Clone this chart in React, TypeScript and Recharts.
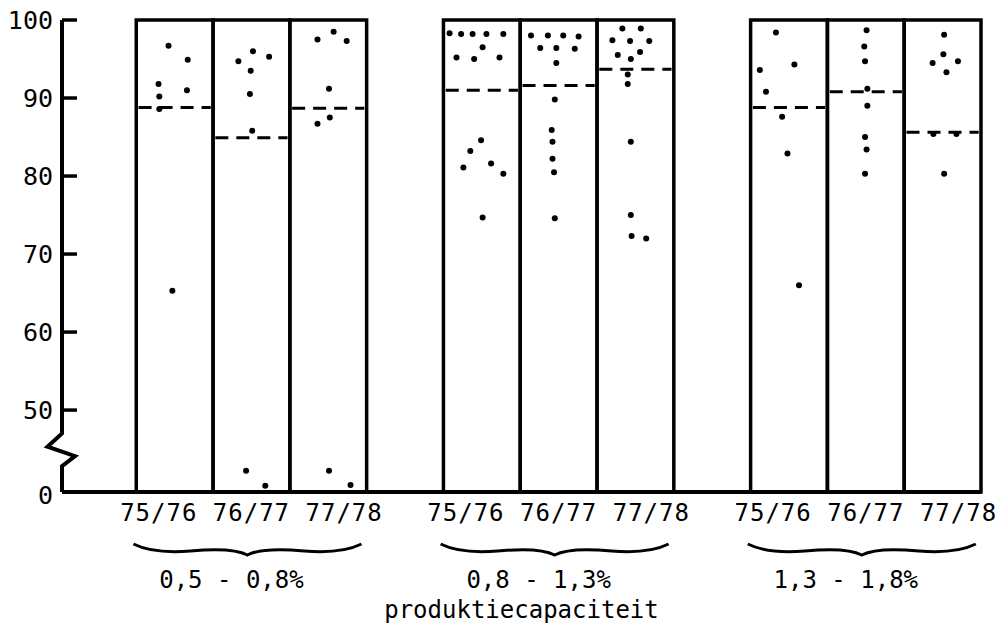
import React from 'react';
import { ComposedChart, XAxis, YAxis, Scatter, ReferenceArea, ReferenceLine } from 'recharts';

// ---------- data ----------
const years = ['75/76', '76/77', '77/78'];
const groupLabels = ['0,5 - 0,8%', '0,8 - 1,3%', '1,3 - 1,8%'];
const xTitle = 'produktiecapaciteit';
const yTickValues = [0, 50, 60, 70, 80, 90, 100];

// dashed level per year, for each capacity group
const levelsG1 = [88.8, 84.9, 88.7];
const levelsG2 = [91.0, 91.6, 93.7];
const levelsG3 = [88.8, 90.8, 85.6];

// dots: [horizontal place inside the column (0..1), value %]
const g1y1 = [[0.42, 96.7], [0.67, 94.9], [0.29, 91.8], [0.66, 91.0], [0.3, 90.2], [0.3, 88.6], [0.47, 65.3]];
const g1y2 = [[0.52, 96.0], [0.33, 94.7], [0.73, 95.3], [0.49, 93.5], [0.48, 90.5], [0.51, 85.8], [0.43, 12.9], [0.68, 3.8]];
const g1y3 = [[0.57, 98.5], [0.36, 97.5], [0.74, 97.3], [0.51, 91.2], [0.52, 87.5], [0.36, 86.7], [0.51, 12.9], [0.79, 4.3]];
const g2y1 = [[0.08, 98.3], [0.23, 98.2], [0.38, 98.2], [0.56, 98.2], [0.78, 98.2], [0.51, 96.5], [0.17, 95.2], [0.4, 95.0], [0.73, 95.2], [0.49, 84.6], [0.35, 83.2], [0.26, 81.1], [0.62, 81.6], [0.78, 80.3], [0.51, 74.7]];
const g2y2 = [[0.14, 98.0], [0.36, 98.0], [0.56, 98.0], [0.76, 97.9], [0.26, 96.4], [0.47, 96.4], [0.71, 96.3], [0.47, 94.5], [0.45, 89.8], [0.41, 85.9], [0.42, 84.4], [0.42, 82.2], [0.44, 80.5], [0.45, 74.6]];
const g2y3 = [[0.33, 98.9], [0.57, 98.9], [0.2, 97.4], [0.43, 97.3], [0.68, 97.3], [0.27, 95.5], [0.44, 95.0], [0.56, 95.9], [0.4, 93.0], [0.4, 91.8], [0.44, 84.4], [0.44, 75.0], [0.45, 72.3], [0.64, 72.0]];
const g3y1 = [[0.33, 98.4], [0.12, 93.6], [0.57, 94.3], [0.2, 90.8], [0.41, 87.6], [0.48, 82.9], [0.63, 66.0]];
const g3y2 = [[0.51, 98.7], [0.48, 96.6], [0.49, 94.7], [0.52, 91.2], [0.52, 89.0], [0.49, 85.0], [0.51, 83.4], [0.49, 80.3]];
const g3y3 = [[0.52, 98.1], [0.51, 95.6], [0.37, 94.5], [0.7, 94.7], [0.55, 93.3], [0.38, 85.4], [0.68, 85.4], [0.52, 80.3]];

const dotsByGroup = [[g1y1, g1y2, g1y3], [g2y1, g2y2, g2y3], [g3y1, g3y2, g3y3]];
const levelsByGroup = [levelsG1, levelsG2, levelsG3];

// ---------- axis break ----------
const ZERO_AT = 39.5; // display position of value 0 (axis broken between 0 and 50)
const toDisplay = (v: number) => (v >= 50 ? v : ZERO_AT + (v * (50 - ZERO_AT)) / 50);
const toReal = (d: number) => (d >= 50 ? d : ((d - ZERO_AT) * 50) / (50 - ZERO_AT));

const X_MIN = -0.967;
const X_MAX = 11;
const colStart = (g: number, c: number) => g * 4 + c;

const MONO = '"DejaVu Sans Mono", "Liberation Mono", monospace';

const points: { x: number; y: number }[] = [];
dotsByGroup.forEach((group, g) =>
  group.forEach((arr, c) =>
    arr.forEach(([f, v]) => points.push({ x: colStart(g, c) + f, y: toDisplay(v) }))
  )
);

const groupTicks = [0, 1, 2].map((g) => colStart(g, 1) + 0.5);

const YTick = (props: any) => {
  const { x, y, payload } = props;
  const real = Math.round(toReal(payload.value));
  return (
    <text
      x={x - 9}
      y={real === 0 ? y + 3 : y}
      textAnchor="end"
      dominantBaseline="central"
      fontFamily={MONO}
      fontSize={25}
      fill="#000"
    >
      {real}
    </text>
  );
};

const XTick = (props: any) => {
  const { x, y, payload } = props;
  const g = Math.round((payload.value - 1.5) / 4);
  const h = 114;
  const bx = x - 4;
  const by = y + 52;
  const d = `M ${bx - h} ${by} Q ${bx - h + 20} ${by + 10} ${bx - h / 2} ${by + 7} Q ${bx - 15} ${by + 3} ${bx} ${by + 11} Q ${bx + 15} ${by + 3} ${bx + h / 2} ${by + 7} Q ${bx + h - 20} ${by + 10} ${bx + h} ${by}`;
  return (
    <g>
      <text
        x={x}
        y={y + 21}
        textAnchor="middle"
        dominantBaseline="central"
        fontFamily={MONO}
        fontSize={24}
        letterSpacing={1}
        fill="#000"
      >
        {years.join(' ')}
      </text>
      <path d={d} fill="none" stroke="#000" strokeWidth={3} />
      <text
        x={x - 20}
        y={y + 88}
        textAnchor="middle"
        dominantBaseline="central"
        fontFamily={MONO}
        fontSize={24}
        fill="#000"
      >
        {groupLabels[g]}
      </text>
    </g>
  );
};

// y axis line with a zig-zag break between 0 and 50, and inward tick marks
const BREAK = [47.0, 45.3, 44.1, 42.8];
const BrokenAxis = (props: any) => {
  const { x1, y1, y2 } = props;
  const yAt = (d: number) => y1 + ((100 - d) / (100 - ZERO_AT)) * (y2 - y1);
  const d = `M ${x1} ${y1} L ${x1} ${yAt(BREAK[0])} L ${x1 - 14.5} ${yAt(BREAK[1])} L ${x1 + 13} ${yAt(BREAK[2])} L ${x1} ${yAt(BREAK[3])} L ${x1} ${y2}`;
  return (
    <g>
      <path d={d} fill="none" stroke="#000" strokeWidth={4} strokeLinejoin="miter" />
      {yTickValues
        .filter((v) => v !== 0)
        .map((v) => (
          <line
            key={v}
            x1={x1}
            x2={x1 + 15}
            y1={yAt(toDisplay(v))}
            y2={yAt(toDisplay(v))}
            stroke="#000"
            strokeWidth={3.5}
          />
        ))}
    </g>
  );
};

const DotShape = (props: any) => <circle cx={props.cx} cy={props.cy} r={3} fill="#000" />;

export default function App() {
  return (
    <div style={{ position: 'absolute', left: 0, top: 0, background: '#fff' }}>
      <ComposedChart width={1002} height={624} margin={{ top: 20, right: 21, bottom: 0, left: 0 }}>
        <XAxis
          type="number"
          dataKey="x"
          domain={[X_MIN, X_MAX]}
          allowDataOverflow
          ticks={groupTicks}
          interval={0}
          height={132}
          tickSize={0}
          tickMargin={0}
          tick={<XTick />}
          axisLine={{ stroke: '#000', strokeWidth: 4 }}
          label={{ value: xTitle, position: 'insideBottom', offset: 6, fill: '#000', fontSize: 24, fontFamily: MONO }}
        />
        <YAxis
          type="number"
          domain={[ZERO_AT, 100]}
          allowDataOverflow
          ticks={yTickValues.map(toDisplay)}
          interval={0}
          width={62}
          tickSize={0}
          tickMargin={0}
          axisLine={false}
          tick={<YTick />}
        />
        {dotsByGroup.map((group, g) =>
          group.map((_, c) => (
            <ReferenceArea
              key={`a${g}${c}`}
              x1={colStart(g, c)}
              x2={colStart(g, c) + 1}
              y1={ZERO_AT}
              y2={100}
              fill="none"
              fillOpacity={0}
              stroke="#000"
              strokeWidth={3.5}
              strokeOpacity={1}
            />
          ))
        )}
        {levelsByGroup.map((levels, g) =>
          levels.map((v, c) => (
            <ReferenceLine
              key={`l${g}${c}`}
              segment={[
                { x: colStart(g, c) + 0.03, y: toDisplay(v) },
                { x: colStart(g, c) + 0.97, y: toDisplay(v) },
              ]}
              stroke="#000"
              strokeWidth={3}
              strokeDasharray="13 8"
            />
          ))
        )}
        <ReferenceLine
          segment={[
            { x: X_MIN, y: 100 },
            { x: X_MIN, y: ZERO_AT },
          ]}
          shape={<BrokenAxis />}
          ifOverflow="visible"
        />
        <Scatter data={points} dataKey="y" shape={<DotShape />} isAnimationActive={false} />
      </ComposedChart>
    </div>
  );
}
